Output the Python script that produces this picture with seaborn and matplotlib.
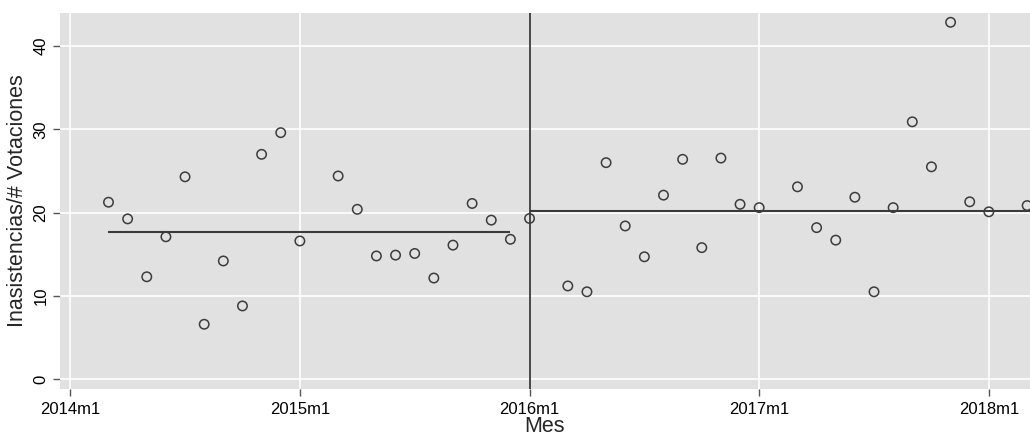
import matplotlib
matplotlib.use("Agg")
import matplotlib.pyplot as plt
import seaborn as sns
import pandas as pd

# Monthly series (Stata-style %tm labels)
meses = [
    "2014m3", "2014m4", "2014m5", "2014m6", "2014m7", "2014m8", "2014m9",
    "2014m10", "2014m11", "2014m12", "2015m1", "2015m3", "2015m4", "2015m5",
    "2015m6", "2015m7", "2015m8", "2015m9", "2015m10", "2015m11", "2015m12",
    "2016m1", "2016m3", "2016m4", "2016m5", "2016m6", "2016m7", "2016m8",
    "2016m9", "2016m10", "2016m11", "2016m12", "2017m1", "2017m3", "2017m4",
    "2017m5", "2017m6", "2017m7", "2017m8", "2017m9", "2017m10", "2017m11",
    "2017m12", "2018m1", "2018m3",
]
inasistencias = [
    21.25, 19.25, 12.3, 17.1, 24.3, 6.6, 14.2,
    8.8, 27.0, 29.6, 16.6, 24.4, 20.4, 14.8,
    14.9, 15.1, 12.15, 16.1, 21.1, 19.1, 16.8,
    19.3, 11.2, 10.5, 26.0, 18.4, 14.7, 22.1,
    26.4, 15.8, 26.55, 21.0, 20.6, 23.1, 18.2,
    16.7, 21.85, 10.5, 20.6, 30.9, 25.5, 42.85,
    21.3, 20.1, 20.85,
]

# Period averages (before / after the break)
periodo_inicio = ["2014m3", "2016m1"]
periodo_fin = ["2015m12", "2018m4"]
periodo_nivel = [17.7, 20.2]

corte = "2016m1"
xticks_lbl = ["2014m1", "2015m1", "2016m1", "2017m1", "2018m1"]
yticks_val = [0, 10, 20, 30, 40]


def tm(s):
    y, m = s.split("m")
    return (int(y) - 2014) * 12 + int(m) - 1


df = pd.DataFrame({"mes": [tm(s) for s in meses], "valor": inasistencias})

sns.set_theme(style="white")
plt.rcParams["font.family"] = ["Liberation Sans", "DejaVu Sans"]

fig = plt.figure(figsize=(10.30, 4.38), dpi=100)
ax = fig.add_axes([59.5 / 1030, 1 - 389 / 438, 1 - 59.5 / 1030, (389 - 12.7) / 438])
ax.set_facecolor("#e1e1e1")

for v in yticks_val:
    ax.axhline(v, color="white", lw=1.2, zorder=1)
for s in xticks_lbl:
    ax.axvline(tm(s), color="white", lw=1.2, zorder=1)

ax.axvline(tm(corte), color="#3a3a3a", lw=1.3, zorder=2)

for a, b, lvl in zip(periodo_inicio, periodo_fin, periodo_nivel):
    ax.plot([tm(a), tm(b)], [lvl, lvl], color="#3a3a3a", lw=1.5, zorder=2,
            solid_capstyle="butt")

sns.scatterplot(data=df, x="mes", y="valor", ax=ax, s=46, marker="o",
                facecolor="none", edgecolor="#3c3c3c", linewidth=1.1, zorder=3)

ax.set_xlim(-0.56, 50.15)
ax.set_ylim(-1.17, 44.0)

ax.set_xticks([tm(s) for s in xticks_lbl])
ax.set_xticklabels(xticks_lbl, fontsize=12)
ax.set_yticks(yticks_val)
ax.set_yticklabels([str(v) for v in yticks_val], fontsize=12, rotation=90,
                   va="center")
ax.tick_params(axis="both", which="major", direction="out", length=5,
               width=1.0, color="#555555", pad=3, labelcolor="black",
               bottom=True, left=True)
ax.tick_params(axis="x", pad=4)

for sp in ax.spines.values():
    sp.set_visible(False)

ax.set_xlabel("Mes", fontsize=15.5, labelpad=0)
ax.set_ylabel("Inasistencias/# Votaciones", fontsize=15.5, labelpad=4)

fig.savefig("out.png", dpi=100)
